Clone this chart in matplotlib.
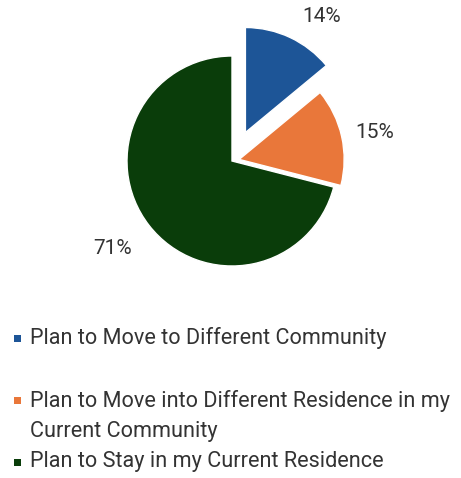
import matplotlib
matplotlib.use('Agg')
import matplotlib.pyplot as plt
from matplotlib.patches import Rectangle

# --- Data ---
categories = ['Plan to Move to Different Community',
              'Plan to Move into Different Residence in my\nCurrent Community',
              'Plan to Stay in my Current Residence']
shares = [14, 15, 71]
colors = ['#1d5597', '#e9773a', '#0a3d0a']
explode = [0.3, 0.07, 0.0]

plt.rcParams['font.family'] = ['Roboto', 'DejaVu Sans']

W, H = 461, 478
fig = plt.figure(figsize=(W / 100, H / 100), dpi=100)

# pie axes cover the whole figure, one data unit = pie radius
R = 105.0
cx, cy = 232, 161
ax = fig.add_axes([0, 0, 1, 1])
wedges, _, pcts = ax.pie(shares, colors=colors, explode=explode, startangle=90,
                         counterclock=False, autopct='%d%%', pctdistance=1.3,
                         wedgeprops=dict(edgecolor='white', linewidth=1.0),
                         textprops=dict(fontsize=15, color='#333333'))
ax.set_xlim(-cx / R, (W - cx) / R)
ax.set_ylim(-(H - cy) / R, cy / R)
ax.set_aspect('auto')
ax.axis('off')

# percent labels sit just outside their slices
label_px = [(322, 17), (375, 133), (113, 248)]
for t, (lx, ly) in zip(pcts, label_px):
    t.set_position(((lx - cx) / R, (cy - ly) / R))


def px(x, y):
    return x / W, 1 - y / H


# --- Legend drawn by hand ---
rows = [338, 400, 462]
for label, col, ry in zip(categories, colors, rows):
    mx, my = px(14, ry + 3.5)
    fig.patches.append(Rectangle((mx, my), 7 / W, 7 / H, transform=fig.transFigure,
                                 facecolor=col, edgecolor='none'))
    if '\n' in label:
        tx, ty = px(30, ry - 10)
        fig.text(tx, ty, label, fontsize=15.6, color='#333333', ha='left', va='top',
                 linespacing=1.55)
    else:
        tx, ty = px(30, ry)
        fig.text(tx, ty, label, fontsize=15.6, color='#333333', ha='left', va='center')

fig.savefig('out.png', dpi=100, facecolor='white')
